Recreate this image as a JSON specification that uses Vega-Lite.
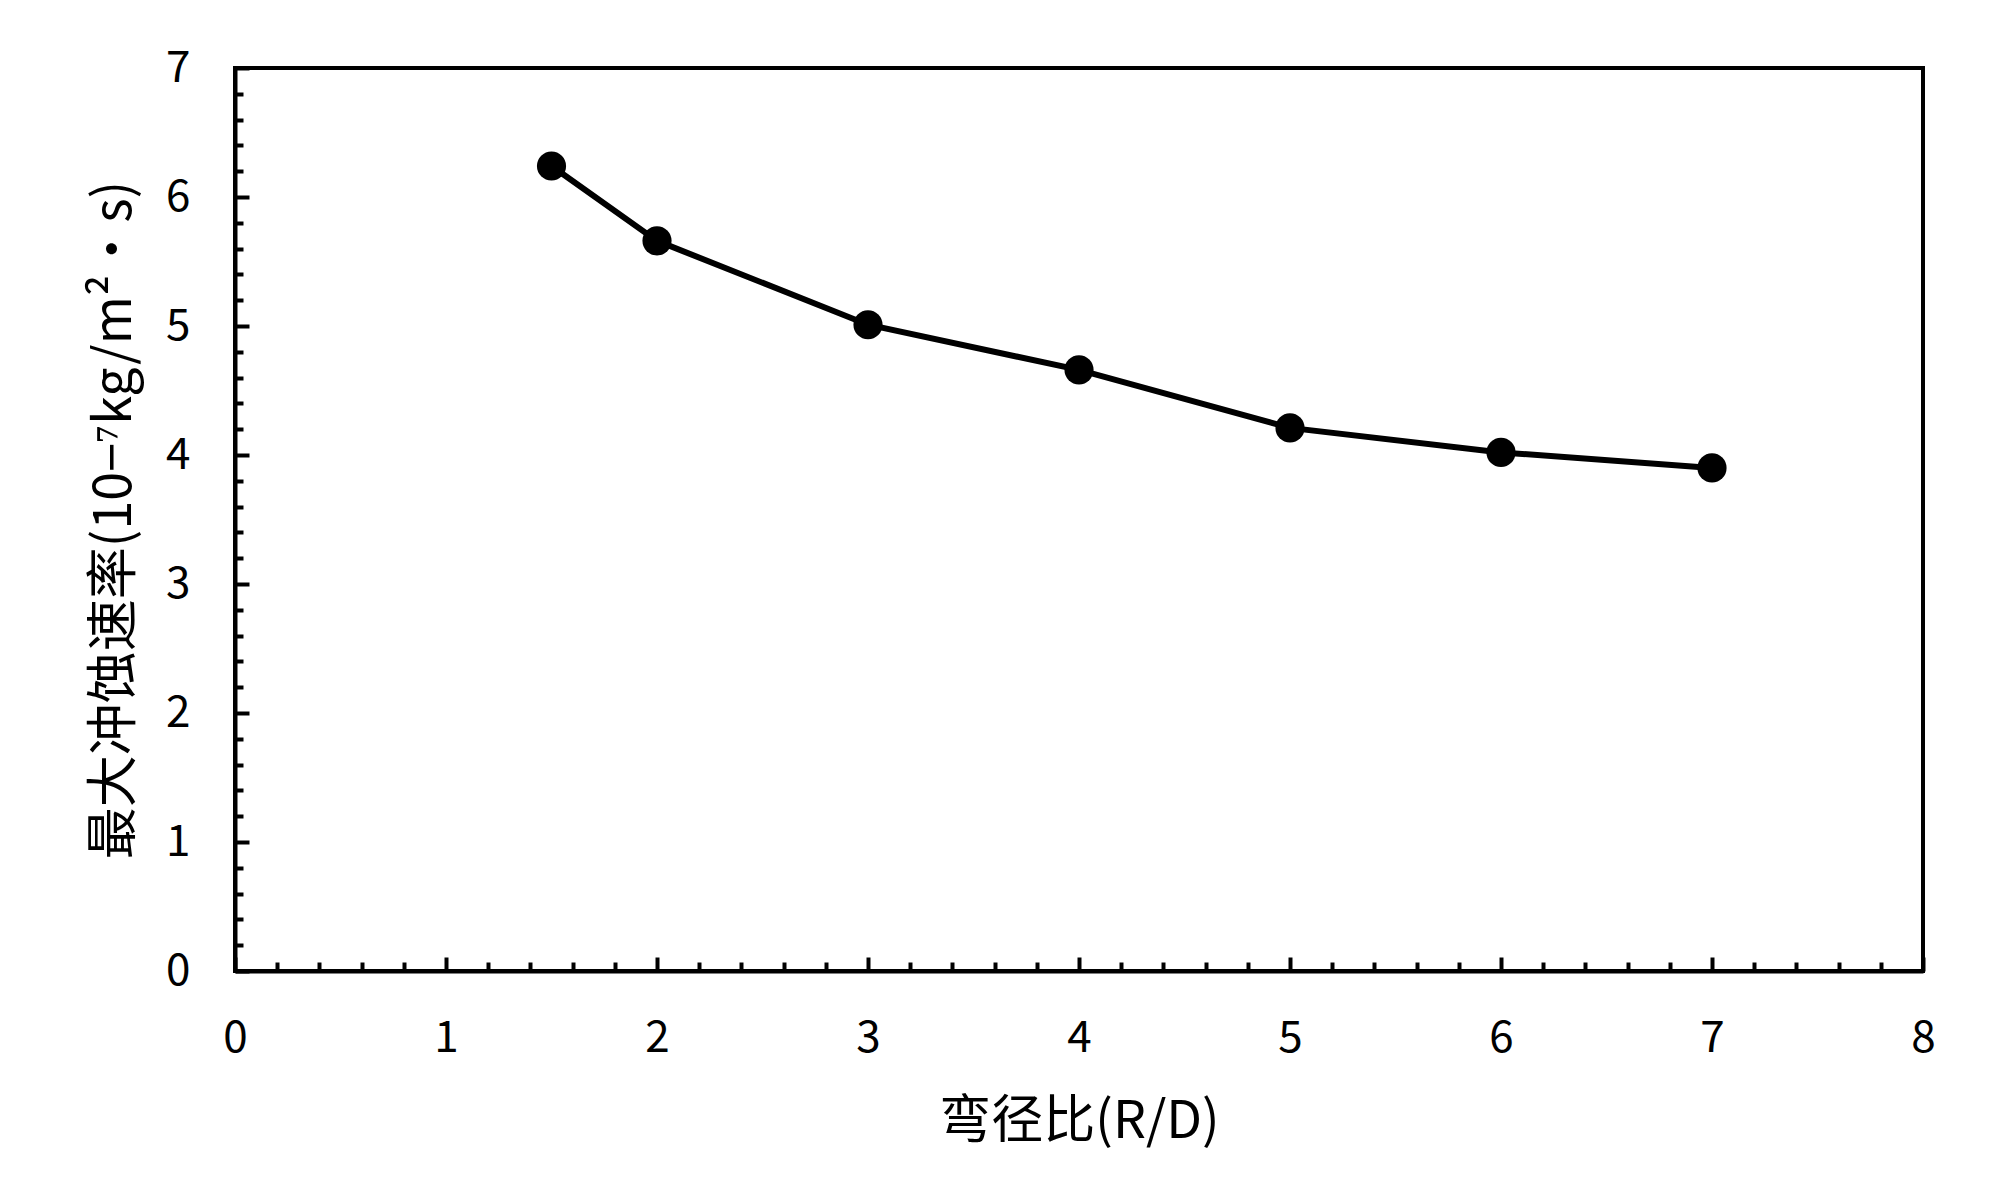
{
  "$schema": "https://vega.github.io/schema/vega-lite/v6.json",
  "width": 1688,
  "height": 903,
  "autosize": "none",
  "padding": {"left": 235, "top": 68, "right": 77, "bottom": 223},
  "background": "white",
  "data": {
    "values": [
      {"rd": 1.5, "rate": 6.24},
      {"rd": 2, "rate": 5.66},
      {"rd": 3, "rate": 5.01},
      {"rd": 4, "rate": 4.66},
      {"rd": 5, "rate": 4.21},
      {"rd": 6, "rate": 4.02},
      {"rd": 7, "rate": 3.9}
    ]
  },
  "config": {
    "view": {"stroke": "black", "strokeWidth": 4},
    "font": "Noto Sans CJK SC",
    "axis": {
      "grid": false,
      "domainColor": "black",
      "domainWidth": 4,
      "tickColor": "black",
      "tickWidth": 4,
      "labelColor": "black",
      "titleColor": "black",
      "labelFont": "Noto Sans CJK SC",
      "titleFont": "Noto Sans CJK SC",
      "labelFontSize": 44,
      "titleFontSize": 52,
      "titleFontWeight": "normal"
    }
  },
  "layer": [
    {
      "mark": {"type": "line", "color": "black", "strokeWidth": 6},
      "encoding": {
        "x": {
          "field": "rd", "type": "quantitative",
          "scale": {"domain": [0, 8], "nice": false, "zero": false},
          "axis": {"orient": "bottom", "values": [0, 1, 2, 3, 4, 5, 6, 7, 8], "tickSize": -14, "labelPadding": 59, "title": "弯径比(R/D)", "titlePadding": 36, "labelFlush": false, "labelOverlap": false}
        },
        "y": {
          "field": "rate", "type": "quantitative",
          "scale": {"domain": [0, 7], "nice": false, "zero": false},
          "axis": {"orient": "left", "values": [0, 1, 2, 3, 4, 5, 6, 7], "tickSize": -14, "labelPadding": 59, "title": "最大冲蚀速率(10−⁷kg/m²・s)", "titlePadding": 24, "labelFlush": false, "labelOverlap": false}
        }
      }
    },
    {
      "mark": {"type": "point", "filled": true, "color": "black", "size": 850, "opacity": 1},
      "encoding": {
        "x": {"field": "rd", "type": "quantitative", "axis": null},
        "y": {"field": "rate", "type": "quantitative", "axis": null}
      }
    },
    {
      "mark": {"type": "point", "opacity": 0},
      "encoding": {
        "x": {
          "field": "rd", "type": "quantitative",
          "axis": {"orient": "bottom", "values": [0.2, 0.4, 0.6, 0.8, 1.2, 1.4, 1.6, 1.8, 2.2, 2.4, 2.6, 2.8, 3.2, 3.4, 3.6, 3.8, 4.2, 4.4, 4.6, 4.8, 5.2, 5.4, 5.6, 5.8, 6.2, 6.4, 6.6, 6.8, 7.2, 7.4, 7.6, 7.8], "tickSize": -9, "labels": false, "domain": false, "title": null}
        },
        "y": {
          "field": "rate", "type": "quantitative",
          "axis": {"orient": "left", "values": [0.2, 0.4, 0.6, 0.8, 1.2, 1.4, 1.6, 1.8, 2.2, 2.4, 2.6, 2.8, 3.2, 3.4, 3.6, 3.8, 4.2, 4.4, 4.6, 4.8, 5.2, 5.4, 5.6, 5.8, 6.2, 6.4, 6.6, 6.8], "tickSize": -8, "labels": false, "domain": false, "title": null}
        }
      }
    }
  ],
  "resolve": {"axis": {"x": "independent", "y": "independent"}}
}
